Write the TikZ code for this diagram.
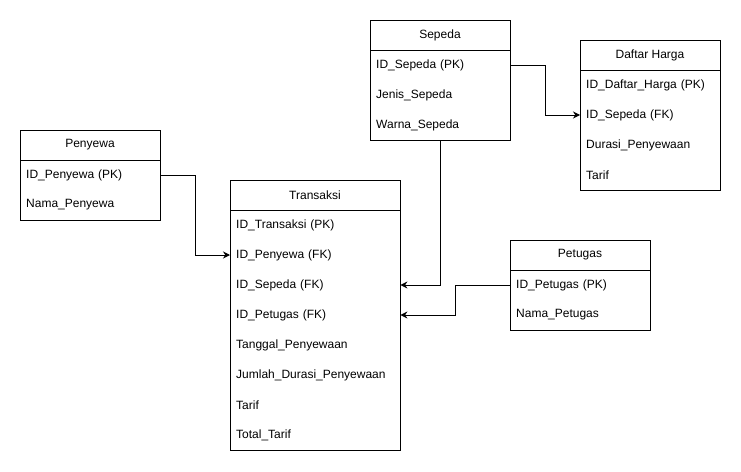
\documentclass[tikz,border=0pt]{standalone}
\usepackage{fontspec}
\setmainfont{Liberation Sans}
\usetikzlibrary{positioning, arrows.meta, calc}

\begin{document}
\begin{tikzpicture}[x=1pt, y=-1pt, font=\fontsize{12pt}{14pt}\selectfont,
      judul/.style={draw, line width=1pt, minimum width=#1, minimum height=30pt, inner sep=0pt},
      badan/.style={draw, line width=1pt, minimum width=#1, inner sep=0pt, anchor=north},
      baris/.style={anchor=west, text width=#1, inner xsep=6pt, inner ysep=0pt, minimum height=30pt, align=left},
      panah/.style={-{Stealth[length=7pt, width=7pt]}, line width=1pt}
    ]
    \useasboundingbox (0,0) rectangle (741,471);

    % ─── Tabel Penyewa ───────────────────────────────────────────
    \node[judul=140pt] (pyw) at (90, 145) {Penyewa};
    \node[badan=140pt, minimum height=60pt] (pywb) at (90, 160) {};
    \node[baris=128pt] (pyw1) at (20, 175) {ID\_Penyewa (PK)};
    \node[baris=128pt] (pyw2) at (20, 205) {Nama\_Penyewa};

    % ─── Tabel Transaksi ─────────────────────────────────────────
    \node[judul=170pt] (trx) at (315, 195) {Transaksi};
    \node[badan=170pt, minimum height=240pt] (trxb) at (315, 210) {};
    \node[baris=158pt] (trx1) at (230, 225) {ID\_Transaksi (PK)};
    \node[baris=158pt] (trx2) at (230, 255) {ID\_Penyewa (FK)};
    \node[baris=158pt] (trx3) at (230, 285) {ID\_Sepeda (FK)};
    \node[baris=158pt] (trx4) at (230, 315) {ID\_Petugas (FK)};
    \node[baris=158pt] (trx5) at (230, 345) {Tanggal\_Penyewaan};
    \node[baris=158pt] (trx6) at (230, 375) {Jumlah\_Durasi\_Penyewaan};
    \node[baris=158pt] (trx7) at (230, 405) {Tarif};
    \node[baris=158pt] (trx8) at (230, 435) {Total\_Tarif};

    % ─── Tabel Sepeda ────────────────────────────────────────────
    \node[judul=140pt] (spd) at (440, 35) {Sepeda};
    \node[badan=140pt, minimum height=90pt] (spdb) at (440, 50) {};
    \node[baris=128pt] (spd1) at (370, 65) {ID\_Sepeda (PK)};
    \node[baris=128pt] (spd2) at (370, 95) {Jenis\_Sepeda};
    \node[baris=128pt] (spd3) at (370, 125) {Warna\_Sepeda};

    % ─── Tabel Daftar Harga ──────────────────────────────────────
    \node[judul=140pt] (dh) at (650, 55) {Daftar Harga};
    \node[badan=140pt, minimum height=120pt] (dhb) at (650, 70) {};
    \node[baris=128pt] (dh1) at (580, 85) {ID\_Daftar\_Harga (PK)};
    \node[baris=128pt] (dh2) at (580, 115) {ID\_Sepeda (FK)};
    \node[baris=128pt] (dh3) at (580, 145) {Durasi\_Penyewaan};
    \node[baris=128pt] (dh4) at (580, 175) {Tarif};

    % ─── Tabel Petugas ───────────────────────────────────────────
    \node[judul=140pt] (ptg) at (580, 255) {Petugas};
    \node[badan=140pt, minimum height=60pt] (ptgb) at (580, 270) {};
    \node[baris=128pt] (ptg1) at (510, 285) {ID\_Petugas (PK)};
    \node[baris=128pt] (ptg2) at (510, 315) {Nama\_Petugas};

    % ─── Relasi ──────────────────────────────────────────────────
    % Penyewa -> Transaksi
    \draw[panah] (pyw1.east) -- ++(35,0) |- (trx2.west);

    % Sepeda -> Transaksi
    \draw[panah] (spdb.south) |- (trx3.east);

    % Petugas -> Transaksi
    \draw[panah] (ptg1.west) -- ++(-55,0) |- (trx4.east);

    % Sepeda -> Daftar Harga
    \draw[panah] (spd1.east) -- ++(35,0) |- (dh2.west);

\end{tikzpicture}
\end{document}
